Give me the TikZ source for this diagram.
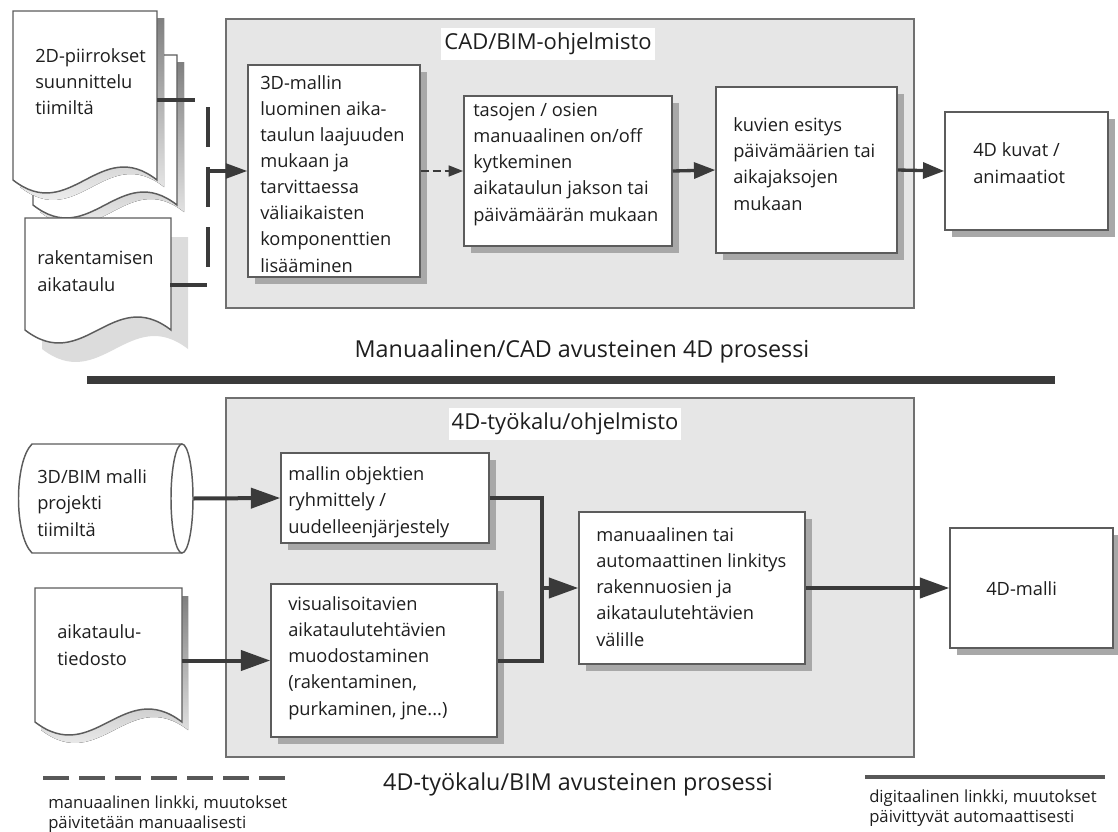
\documentclass[tikz,border=0pt]{standalone}
\usepackage{fontspec}
\setmainfont{Open Sans}
\usetikzlibrary{arrows.meta,fit,shadows}
\definecolor{panelfill}{HTML}{E6E6E6}
\definecolor{panelline}{HTML}{707070}
\definecolor{boxline}{HTML}{5C5C5C}
\definecolor{shade}{HTML}{A8A8A8}
\definecolor{lightshade}{HTML}{DCDCDC}
\definecolor{arrc}{HTML}{3A3A3A}
\definecolor{txtc}{HTML}{1E1E1E}
\tikzset{
  panel/.style={draw=panelline, fill=panelfill, line width=1.1pt, inner sep=0pt},
  ttl/.style={fill=white, inner xsep=2.25pt, inner ysep=4pt, text=txtc, font=\fontsize{16.5}{20}\selectfont},
  box/.style={draw=boxline, fill=white, line width=1.1pt, inner sep=0pt,
    drop shadow={shadow xshift=5pt, shadow yshift=-5pt, fill=shade, opacity=1}},
  txt/.style={anchor=base west, align=left, inner sep=0pt, text=txtc, font=\fontsize{13.7}{19.6}\selectfont},
  docline/.style={draw=boxline, line width=1.1pt},
  capt/.style={inner sep=0pt, text=txtc, font=\fontsize{17.5}{21}\selectfont},
  legtxt/.style={anchor=base west, align=left, inner sep=0pt, text=txtc, font=\fontsize{12.5}{15}\selectfont},
  stub/.style={draw=arrc, line width=2.3pt},
  mdash/.style={draw=arrc, line width=2.3pt, dash pattern=on 30pt off 15pt},
  arrT/.style={draw=arrc, line width=2.3pt, -{Triangle[length=16pt,width=11pt]}},
  arrDash/.style={draw=arrc, line width=2pt, dash pattern=on 6pt off 3pt, -{Triangle[length=11pt,width=8pt]}},
  arrS/.style={draw=arrc, line width=2.5pt, -{Triangle[length=16pt,width=12pt]}},
  lineB/.style={draw=arrc, line width=3pt},
  arrB/.style={draw=arrc, line width=3pt, -{Triangle[length=22pt,width=15pt]}},
  divider/.style={draw=arrc, line width=5.5pt},
  legdash/.style={draw=arrc!85, line width=3pt, dash pattern=on 19.5pt off 7.5pt},
  legsolid/.style={draw=arrc!85, line width=3pt}
}
\begin{document}
\begin{tikzpicture}[x=0.75pt,y=-0.75pt]
\useasboundingbox (0,0) rectangle (1118,832);

% ---------- panels
\node[panel, fit={(226,19)(914,308)}] (P1) {};
\node[panel, fit={(226,398)(914,757)}] (P2) {};
\node[ttl] (T1) at (548,44) {CAD/BIM-ohjelmisto};
\node[ttl] (T2) at (565,424) {4D-työkalu/ohjelmisto};

% ---------- top-left documents
\fill[shade] (40,62) -- (184,62) -- (184,212) .. controls (126.4,167) and (97.6,257) .. (40,212) -- cycle;
\draw[docline, fill=white] (33,55) -- (177,55) -- (177,205) .. controls (119.4,160) and (90.6,250) .. (33,205) -- cycle;
\fill[shade] (20,18) -- (164,18) -- (164,187) .. controls (106.4,142) and (77.6,232) .. (20,187) -- cycle;
\draw[docline, fill=white] (13,11) -- (157,11) -- (157,180) .. controls (99.4,135) and (70.6,225) .. (13,180) -- cycle;
\node[txt] (doc1t) at (35,114.3) {2D-piirrokset\\suunnittelu\\tiimiltä};

\fill[lightshade] (42,237) -- (188,237) -- (188,349) .. controls (129.6,304) and (100.4,394) .. (42,349) -- cycle;
\draw[docline, fill=white] (25,218) -- (171,218) -- (171,330) .. controls (112.6,285) and (83.4,375) .. (25,330) -- cycle;
\node[txt] (doc2t) at (37,291) {rakentamisen\\aikataulu};

% ---------- top boxes
\node[box, fit={(248,65)(420,277)}] (A) {};
\node[box, fit={(464,96)(672,246)}] (B) {};
\node[box, fit={(716,87)(897,253)}] (C) {};
\node[box, fit={(945,112)(1108,230)}] (D) {};
\node[txt] (At) at (260,272) {3D-mallin\\luominen aika-\\taulun laajuuden\\mukaan ja\\tarvittaessa\\väliaikaisten\\komponenttien\\lisääminen};
\node[txt] (Bt) at (473,221) {tasojen / osien\\manuaalinen on/off\\kytkeminen\\aikataulun jakson tai\\päivämäärän mukaan};
\node[txt] (Ct) at (733,210) {kuvien esitys\\päivämäärien tai\\aikajaksojen\\mukaan};
\node[txt] (Dt) at (973,183) {4D kuvat /\\animaatiot};

% ---------- top connectors
\coordinate (d1out) at (157,100);
\coordinate (d1end) at (195,100);
\coordinate (d2out) at (170,285);
\coordinate (d2end) at (207,285);
\coordinate (mtop) at (208,107);
\coordinate (mbot) at (208,267);
\coordinate (mj) at (207,171);
\draw[stub] (d1out) -- (d1end);
\draw[stub] (d2out) -- (d2end);
\draw[mdash] (mtop) -- (mbot);
\draw[arrT] (mj) -- (A.west);
\draw[arrDash] (A.east) -- (B.west);
\draw[arrS] (B.east) -- (C.west);
\draw[arrS] (C.east) -- (D.west);

% ---------- captions and divider
\node[capt] (cap1) at (582,351) {Manuaalinen/CAD avusteinen 4D prosessi};
\coordinate (dl) at (87,380);
\coordinate (dr) at (1055,380);
\draw[divider] (dl) -- (dr);

% ---------- bottom-left inputs
\draw[docline, fill=white] (182,444) -- (32,444) .. controls (14,462) and (14,535) .. (32,553) -- (182,553);
\draw[docline, fill=white] (182,498.5) ellipse [x radius=11, y radius=54.5];
\node[fit={(18,444)(193,553)}, inner sep=0pt] (cyl) {};
\node[txt] (cylt) at (37,536) {3D/BIM malli\\projekti\\tiimiltä};

\fill[shade] (41,596) -- (188,596) -- (188,730) .. controls (129.2,685) and (99.8,775) .. (41,730) -- cycle;
\draw[docline, fill=white] (35,588) -- (182,588) -- (182,722) .. controls (123.2,677) and (93.8,767) .. (35,722) -- cycle;
\node[txt] (doc3t) at (57,665) {aikataulu-\\tiedosto};

% ---------- bottom boxes
\node[box, fit={(281,453)(489,543)}] (E) {};
\node[box, fit={(271,584)(497,737)}] (F) {};
\node[box, fit={(579,512)(805,664)}] (G) {};
\node[box, fit={(950,528)(1113,648)}] (H) {};
\node[txt] (Et) at (288,533) {mallin objektien\\ryhmittely /\\uudelleenjärjestely};
\node[txt] (Ft) at (288,715) {visualisoitavien\\aikataulutehtävien\\muodostaminen\\(rakentaminen,\\purkaminen, jne...)};
\node[txt] (Gt) at (596,646) {manuaalinen tai\\automaattinen linkitys\\rakennuosien ja\\aikataulutehtävien\\välille};
\node[txt] (Ht) at (986,595) {4D-malli};

% ---------- bottom connectors
\coordinate (d3out) at (182,660.5);
\coordinate (J) at (542,588);
\draw[arrB] (cyl.east) -- (E.west);
\draw[arrB] (d3out) -- (F.west);
\draw[lineB] (E.east) -| (J) |- (F.east);
\draw[arrB] (J) -- (G.west);
\draw[arrB] (G.east) -- (H.west);

% ---------- bottom caption and legend
\node[capt] (cap2) at (578,784) {4D-työkalu/BIM avusteinen prosessi};
\coordinate (l1a) at (43,778);
\coordinate (l1b) at (287,778);
\coordinate (l2a) at (865,777);
\coordinate (l2b) at (1105,777);
\draw[legdash] (l1a) -- (l1b);
\draw[legsolid] (l2a) -- (l2b);
\node[legtxt] (lt1) at (48,828) {manuaalinen linkki, muutokset\\päivitetään manuaalisesti};
\node[legtxt] (lt2) at (869,822) {digitaalinen linkki, muutokset\\päivittyvät automaattisesti};
\end{tikzpicture}
\end{document}
